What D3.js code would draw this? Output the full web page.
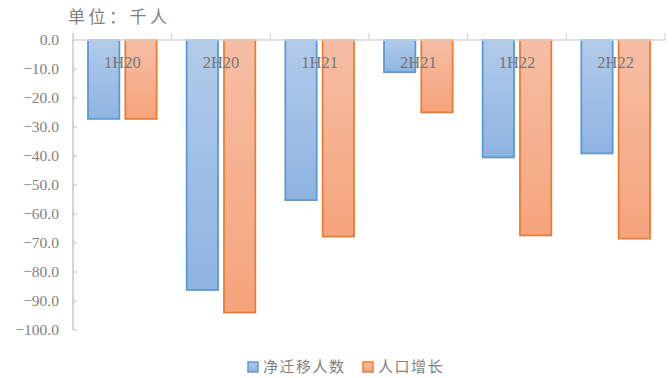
<!DOCTYPE html>
<html>
<head>
<meta charset="utf-8">
<script src="https://cdn.jsdelivr.net/npm/d3@7"></script>
<style>
  body { margin: 0; background: #fff; }
  svg { display: block; }
</style>
</head>
<body>
<svg id="chart"></svg>
<script>
const categories = ['1H20', '2H20', '1H21', '2H21', '1H22', '2H22'];
const seriesNames = ['净迁移人数', '人口增长'];
const netMigration = [-27.2, -86.2, -55.2, -11.1, -40.5, -39.1];
const popGrowth = [-27.2, -94.0, -67.8, -25.0, -67.4, -68.5];
const yTicks = d3.range(0, -101, -10);

const width = 672, height = 378;
const margin = { top: 40, left: 73, right: 7, bottom: 48 };

const svg = d3.select('#chart').attr('width', width).attr('height', height);

// gradients for bars (Excel-ish look)
const defs = svg.append('defs');
const grads = [
  { id: 'gBlue', top: '#b2cbea', bottom: '#8fb3e2' },
  { id: 'gOrange', top: '#f6bea5', bottom: '#f5a47c' }
];
grads.forEach((g) => {
  const lg = defs.append('linearGradient').attr('id', g.id)
    .attr('x1', 0).attr('y1', 0).attr('x2', 0).attr('y2', 1);
  lg.append('stop').attr('offset', '0%').attr('stop-color', g.top);
  lg.append('stop').attr('offset', '100%').attr('stop-color', g.bottom);
});
const fills = ['url(#gBlue)', 'url(#gOrange)'];
const strokes = ['#5b9bd5', '#ed7d31'];

// scales
const x0 = d3.scaleBand().domain(categories).range([margin.left, width - margin.right]);
const x1 = d3.scaleBand().domain(seriesNames)
  .range([15, x0.bandwidth() - 15]).paddingInner(0.16);
const y = d3.scaleLinear().domain([0, -100]).range([margin.top, 330]);

// y axis
const gy = svg.append('g').attr('transform', `translate(${margin.left},0)`);
gy.append('line').attr('x1', 0).attr('x2', 0).attr('y1', 33).attr('y2', y(-100))
  .attr('stroke', '#bfbfbf').attr('stroke-width', 1.3);
gy.selectAll('line.tick').data(yTicks).join('line').attr('class', 'tick')
  .attr('x1', 0).attr('x2', 4).attr('y1', (d) => y(d)).attr('y2', (d) => y(d))
  .attr('stroke', '#bfbfbf').attr('stroke-width', 1);
gy.selectAll('text').data(yTicks).join('text')
  .attr('x', -14).attr('y', (d) => y(d)).attr('dy', '0.35em')
  .attr('text-anchor', 'end')
  .style('font-family', '"Liberation Serif", "Times New Roman", serif')
  .style('font-size', '15.5px').style('fill', '#7f7f7f')
  .text((d) => d3.format('.1f')(d));

// bars
const groups = svg.append('g').selectAll('g').data(categories).join('g')
  .attr('transform', (d) => `translate(${x0(d)},0)`);
groups.selectAll('rect').data((d, i) => [
  { s: 0, name: seriesNames[0], v: netMigration[i] },
  { s: 1, name: seriesNames[1], v: popGrowth[i] }
]).join('rect')
  .attr('x', (d) => x1(d.name))
  .attr('width', x1.bandwidth())
  .attr('y', y(0))
  .attr('height', (d) => y(d.v) - y(0))
  .attr('fill', (d) => fills[d.s])
  .attr('stroke', (d) => strokes[d.s])
  .attr('stroke-width', 1.8);

// category axis at top (value 0)
const gx = svg.append('g');
gx.append('line').attr('x1', margin.left).attr('x2', width - margin.right)
  .attr('y1', y(0)).attr('y2', y(0)).attr('stroke', '#d9d9d9').attr('stroke-width', 1.3);
const bounds = categories.map((c) => x0(c) + x0.bandwidth()).concat([x0(categories[0])]);
gx.selectAll('line.ct').data(bounds).join('line').attr('class', 'ct')
  .attr('x1', (d) => d).attr('x2', (d) => d).attr('y1', y(0)).attr('y2', 33)
  .attr('stroke', '#d9d9d9').attr('stroke-width', 1.3);
gx.selectAll('text').data(categories).join('text')
  .attr('x', (d) => x0(d) + x0.bandwidth() / 2).attr('y', 62).attr('dy', '0.35em')
  .attr('text-anchor', 'middle')
  .style('font-family', '"Liberation Serif", "Times New Roman", serif')
  .style('font-size', '16.5px').style('fill', '#767676')
  .text((d) => d);

// unit title
svg.append('text').attr('x', 68).attr('y', 17).attr('dy', '0.35em')
  .style('font-family', '"Noto Sans CJK SC", sans-serif')
  .style('font-size', '17px').style('letter-spacing', '3.5px').style('fill', '#7f7f7f')
  .text('单位：千人');

// legend
const legendItems = [
  { name: seriesNames[0], x: 248 },
  { name: seriesNames[1], x: 363 }
];
const lg = svg.append('g').selectAll('g').data(legendItems).join('g')
  .attr('transform', (d) => `translate(${d.x},362)`);
lg.append('rect').attr('width', 10).attr('height', 10)
  .attr('fill', (d, i) => fills[i]).attr('stroke', (d, i) => strokes[i]).attr('stroke-width', 1.5);
lg.append('text').attr('x', 15).attr('y', 5).attr('dy', '0.35em')
  .style('font-family', '"Noto Sans CJK SC", sans-serif')
  .style('font-size', '15px').style('letter-spacing', '1.5px').style('fill', '#7f7f7f')
  .text((d) => d.name);
</script>
</body>
</html>
